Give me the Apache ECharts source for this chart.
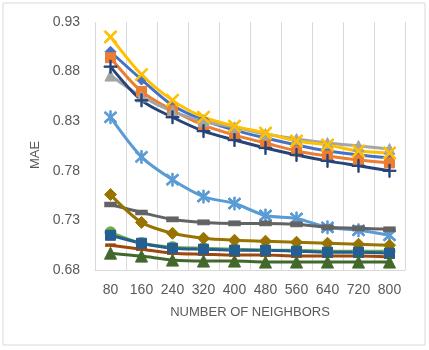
<!DOCTYPE html>
<html>
<head>
<meta charset="utf-8">
<script src="https://cdn.jsdelivr.net/npm/echarts@6/dist/echarts.min.js"></script>
<style>
  html, body { margin: 0; padding: 0; background: #fff; }
  #chart { width: 429px; height: 350px; }
</style>
</head>
<body>
<div id="chart"></div>
<script>
// x categories
const neighbors = ["80", "160", "240", "320", "400", "480", "560", "640", "720", "800"];
const yTicks = [0.68, 0.73, 0.78, 0.83, 0.88, 0.93];

// MAE values per series
const s1 = [0.900, 0.872, 0.846, 0.831, 0.821, 0.813, 0.806, 0.800, 0.796, 0.793];
const s2 = [0.894, 0.860, 0.841, 0.826, 0.816, 0.808, 0.800, 0.795, 0.791, 0.788];
const s3 = [0.876, 0.855, 0.840, 0.830, 0.824, 0.817, 0.812, 0.808, 0.805, 0.802];
const s4 = [0.915, 0.877, 0.851, 0.834, 0.825, 0.818, 0.810, 0.806, 0.800, 0.798];
const s5 = [0.834, 0.794, 0.771, 0.754, 0.747, 0.735, 0.732, 0.723, 0.720, 0.715];
const s6 = [0.718, 0.707, 0.703, 0.702, 0.701, 0.700, 0.700, 0.699, 0.699, 0.699];
const s7 = [0.885, 0.851, 0.834, 0.820, 0.811, 0.803, 0.796, 0.790, 0.785, 0.780];
const s8 = [0.705, 0.701, 0.697, 0.696, 0.695, 0.695, 0.694, 0.694, 0.694, 0.693];
const s9 = [0.746, 0.738, 0.731, 0.728, 0.727, 0.727, 0.726, 0.723, 0.722, 0.721];
const s10 = [0.756, 0.728, 0.717, 0.712, 0.710, 0.709, 0.708, 0.707, 0.706, 0.705];
const s11 = [0.715, 0.707, 0.702, 0.701, 0.700, 0.700, 0.699, 0.698, 0.698, 0.697];
const s12 = [0.697, 0.694, 0.690, 0.689, 0.689, 0.688, 0.688, 0.688, 0.688, 0.688];

// marker shapes
const xMark = "path://M0,2 L2,0 L10,8 L18,0 L20,2 L12,10 L20,18 L18,20 L10,12 L2,20 L0,18 L8,10 Z";
const plusMark = "path://M9,0 H11 V9 H20 V11 H11 V20 H9 V11 H0 V9 H9 Z";
const starMark = "path://M9,0 H11 V20 H9 Z M1,3 L3,1 L19,17 L17,19 Z M17,1 L19,3 L3,19 L1,17 Z";

const chart = echarts.init(document.getElementById("chart"));

function line(data, color, symbol, size) {
  return {
    type: "line",
    data: data,
    smooth: 0.3,
    symbol: symbol,
    symbolSize: size,
    lineStyle: { color: color, width: 3 },
    itemStyle: { color: color, borderColor: color, borderWidth: 1 },
    emphasis: { disabled: true }
  };
}

const option = {
  animation: false,
  backgroundColor: "#fff",
  graphic: [{
    type: "rect",
    shape: { x: 3, y: 3, width: 422, height: 342 },
    style: { fill: "none", stroke: "#D9D9D9", lineWidth: 1 }
  }],
  grid: { left: 95, right: 24, top: 22, bottom: 80 },
  xAxis: {
    type: "category",
    data: neighbors,
    boundaryGap: true,
    name: "NUMBER OF NEIGHBORS",
    nameLocation: "middle",
    nameGap: 36,
    nameTextStyle: { color: "#595959", fontSize: 13, fontFamily: "Liberation Sans" },
    axisLine: { lineStyle: { color: "#D9D9D9" } },
    axisTick: { show: false },
    axisLabel: { color: "#595959", fontSize: 14, margin: 13, fontFamily: "Liberation Sans", interval: 0 },
    splitLine: { show: true, lineStyle: { color: "#D9D9D9", width: 1 } }
  },
  yAxis: {
    type: "value",
    min: yTicks[0],
    max: yTicks[yTicks.length - 1],
    interval: 0.05,
    name: "MAE",
    nameLocation: "middle",
    nameGap: 50,
    nameTextStyle: { color: "#595959", fontSize: 13, fontFamily: "Liberation Sans", padding: [0, 18, 0, 0] },
    axisLine: { show: false },
    axisTick: { show: false },
    axisLabel: {
      color: "#595959", fontSize: 14, margin: 15, fontFamily: "Liberation Sans",
      formatter: v => v.toFixed(2)
    },
    splitLine: { show: false }
  },
  series: [
    line(s1, "#4472C4", "diamond", 11),
    line(s2, "#ED7D31", "rect", 10),
    line(s3, "#A5A5A5", "triangle", 11),
    line(s4, "#FFC000", xMark, 13),
    line(s5, "#5B9BD5", starMark, 13),
    line(s6, "#70AD47", "circle", 11),
    line(s7, "#264478", plusMark, 13),
    line(s8, "#9E480E", "rect", [9, 3]),
    line(s9, "#636363", "rect", [11, 5]),
    line(s10, "#997300", "diamond", 12),
    line(s11, "#255E91", "rect", 10),
    line(s12, "#43682B", "triangle", 12)
  ]
};

chart.setOption(option);
</script>
</body>
</html>
